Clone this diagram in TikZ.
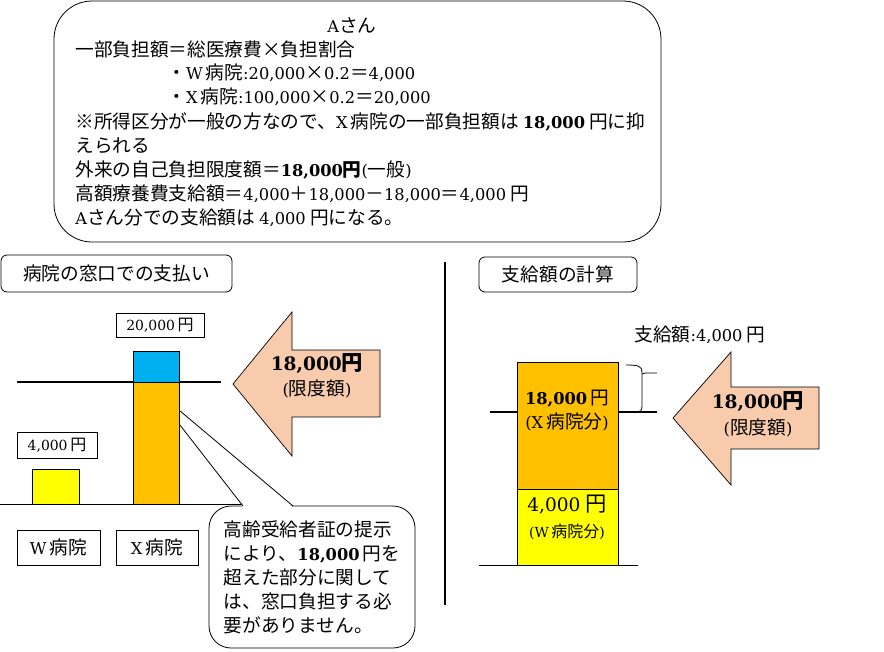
\documentclass[tikz,border=0pt]{standalone}
\usepackage{fontspec}
\setmainfont{Noto Sans CJK JP}
\newfontfamily\latinfont{DejaVu Serif}[Scale=0.87]
\newcommand{\lat}[1]{{\latinfont #1}}
\newcommand{\blat}[1]{{\latinfont\bfseries #1}}
\newcommand{\fsmid}{\fontsize{18.67}{24}\selectfont}
\newcommand{\fssmall}{\fontsize{16}{20}\selectfont}
\newcommand{\fsbig}{\fontsize{21.33}{26}\selectfont}
\usetikzlibrary{positioning}
\definecolor{barblue}{HTML}{00B0F0}
\definecolor{barorange}{HTML}{FFC000}
\definecolor{baryellow}{HTML}{FFFF00}
\definecolor{peach}{HTML}{F8CBAD}
\tikzset{
  txt/.style={inner sep=0pt},
  labelbox/.style={draw, rounded corners=6pt, inner sep=0pt},
  valbox/.style={draw, inner sep=0pt},
  bar/.style={draw, line width=0.8pt},
  limitarrow/.style={draw, fill=peach, line width=0.7pt},
  heavyline/.style={line width=2pt},
}

\begin{document}
\begin{tikzpicture}[x=1pt, y=-1pt, line width=0.8pt, font=\fsmid]
		\useasboundingbox (0,0) rectangle (884,651);

		% summary box
		\node[draw, rounded corners=38pt, minimum width=607pt, minimum height=241pt] (summary) at (357.5,121.5) {};
		\node[txt] (nameA) at (352,25) {\lat{A}さん};
		\node[txt, anchor=west] (rule) at (75,49) {一部負担額＝総医療費×負担割合};
		\node[txt, anchor=west] (calcW) at (167,73) {・\lat{W}\,病院\lat{:20,000}×\lat{0.2}＝\lat{4,000}};
		\node[txt, anchor=west] (calcX) at (167,97) {・\lat{X}\,病院\lat{:100,000}×\lat{0.2}＝\lat{20,000}};
		\node[txt, anchor=west] (noteA) at (75,122) {※所得区分が一般の方なので、\lat{X}\,病院の一部負担額は \blat{18,000} 円に抑};
		\node[txt, anchor=west] (noteB) at (75,146) {えられる};
		\node[txt, anchor=west] (limit) at (75,170) {外来の自己負担限度額＝\blat{18,000}{\bfseries 円}\lat{(}一般\lat{)}};
		\node[txt, anchor=west] (benefit) at (75,194) {高額療養費支給額＝\lat{4,000}＋\lat{18,000}－\lat{18,000}＝\lat{4,000} 円};
		\node[txt, anchor=west] (result) at (75,218) {\lat{A}さん分での支給額は \lat{4,000} 円になる。};

		% payment at the counter
		\node[labelbox, minimum width=231pt, minimum height=37pt] (payTitle) at (116.5,273.5) {病院の窓口での支払い};
		\draw[heavyline] (17,382) -- (221,382);

		\node[draw, fill=white, rounded corners=22pt, minimum width=206pt, minimum height=142pt, align=left] (cardNote) at (312,577)
			{高齢受給者証の提示\\により、\blat{18,000}\,円を\\超えた部分に関して\\は、窓口負担する必\\要がありません。};
		\coordinate (tipX) at (148,384);
		\coordinate (wedgeL) at (243,506);
		\coordinate (wedgeR) at (293,506);
		\fill[white] (243,507.5) -- (tipX) -- (293,507.5) -- cycle;
		\draw (wedgeL) -- (tipX) -- (wedgeR);

		\draw[bar, fill=barblue] (133,351) rectangle (179,382);
		\draw[bar, fill=barorange] (133,382) rectangle (179,504);
		\draw[bar, fill=baryellow] (32,469) rectangle (79,504);
		\draw (0,504) -- (242,504);

		\node[valbox, font=\fssmall, minimum width=88pt, minimum height=24pt] (amtX) at (160,325) {\lat{20,000}\,円};
		\node[valbox, font=\fssmall, minimum width=80pt, minimum height=26pt] (amtW) at (57,445) {\lat{4,000}\,円};
		\node[valbox, minimum width=83pt, minimum height=35pt] (hospW) at (58.5,547.5) {\lat{W}\,病院};
		\node[valbox, minimum width=82pt, minimum height=35pt] (hospX) at (157,547.5) {\lat{X}\,病院};

		\draw[limitarrow] (233,384) -- (292,312) -- (292,350) -- (380,350) -- (380,417) -- (292,417) -- (292,456) -- cycle;
		\node[txt, font=\fsbig] (capL) at (317,364) {\blat{18,000}{\bfseries 円}};
		\node[txt] (capLsub) at (317,389) {\lat{(}限度額\lat{)}};

		% divider
		\draw[line width=1.5pt] (445,262) -- (445,605);

		% benefit calculation
		\node[labelbox, minimum width=158pt, minimum height=35pt] (calcTitle) at (558,274.5) {支給額の計算};
		\node[txt] (payout) at (700,335) {支給額\lat{:4,000} 円};
		\draw[heavyline] (490,412) -- (657,412);
		\draw[bar, fill=barorange] (517,362) rectangle (618,489);
		\draw[bar, fill=baryellow] (517,489) rectangle (618,565);
		\draw (479,565) -- (638,565);
		\node[txt] (partX) at (567,399) {\blat{18,000}\,円};
		\node[txt] (partXsub) at (567,422) {\lat{(X}\,病院分\lat{)}};
		\node[txt, font=\fsbig] (partW) at (567,505) {\lat{4,000} 円};
		\node[txt, font=\fssmall] (partWsub) at (567,532) {\lat{(W}\,病院分\lat{)}};

		\draw (626,365) .. controls (638,365) and (642,366) .. (642,372) -- (642,406) .. controls (642,411) and (640,412) .. (637,412);
		\draw (642,374) .. controls (643,373) .. (657,373);

		\draw[limitarrow] (673,418) -- (731,352) -- (731,387) -- (819,387) -- (819,449) -- (731,449) -- (731,485) -- cycle;
		\node[txt, font=\fsbig] (capR) at (758,402) {\blat{18,000}{\bfseries 円}};
		\node[txt] (capRsub) at (758,428) {\lat{(}限度額\lat{)}};
	\end{tikzpicture}
\end{document}
